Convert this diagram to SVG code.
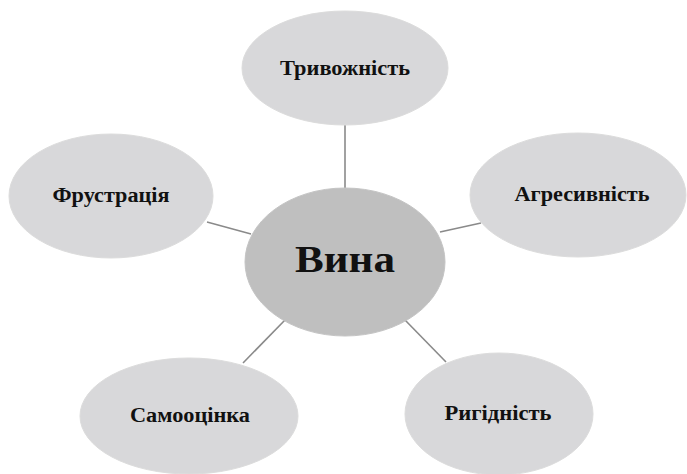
<svg xmlns="http://www.w3.org/2000/svg" width="687" height="474" viewBox="0 0 687 474">
<style>
.outer{fill:#d8d8da;stroke:#dcdcdc;stroke-width:1}
.center{fill:#bfbfbf;stroke:#c4c4c4;stroke-width:1}
.lbl{font-family:"Liberation Serif","Times New Roman",serif;font-weight:bold;font-size:20px;fill:#111;text-anchor:middle}
.big{font-family:"Liberation Serif","Times New Roman",serif;font-weight:bold;font-size:37px;fill:#111;text-anchor:middle}
.conn line{stroke:#8a8a8a;stroke-width:1.6}
</style>
<rect width="687" height="474" fill="#fff"/>
<g class="conn">
<line x1="345" y1="125" x2="345" y2="189"/>
<line x1="207" y1="222" x2="251" y2="234"/>
<line x1="440" y1="232" x2="481" y2="223"/>
<line x1="285" y1="320" x2="243" y2="363"/>
<line x1="405" y1="320" x2="446" y2="362"/>
</g>
<g id="node-tryvozhnist">
<ellipse class="outer" cx="345" cy="68" rx="103" ry="57"/>
<text class="lbl" x="345" y="75" textLength="130" lengthAdjust="spacingAndGlyphs">Тривожність</text>
</g>
<g id="node-frustratsiia">
<ellipse class="outer" cx="111" cy="196" rx="102" ry="62"/>
<text class="lbl" x="111" y="202" textLength="117" lengthAdjust="spacingAndGlyphs">Фрустрація</text>
</g>
<g id="node-ahresyvnist">
<ellipse class="outer" cx="578" cy="195" rx="108" ry="62"/>
<text class="lbl" x="582" y="201" textLength="135" lengthAdjust="spacingAndGlyphs">Агресивність</text>
</g>
<g id="node-samootsinka">
<ellipse class="outer" cx="189" cy="416" rx="109" ry="58"/>
<text class="lbl" x="190" y="422" textLength="120" lengthAdjust="spacingAndGlyphs">Самооцінка</text>
</g>
<g id="node-hyhidnist">
<ellipse class="outer" cx="499" cy="414" rx="94" ry="61"/>
<text class="lbl" x="498" y="420" textLength="107" lengthAdjust="spacingAndGlyphs">Ригідність</text>
</g>
<g id="node-vyna">
<ellipse class="center" cx="345" cy="262" rx="100" ry="74"/>
<text class="big" x="345" y="272" textLength="100" lengthAdjust="spacingAndGlyphs">Вина</text>
</g>
</svg>
